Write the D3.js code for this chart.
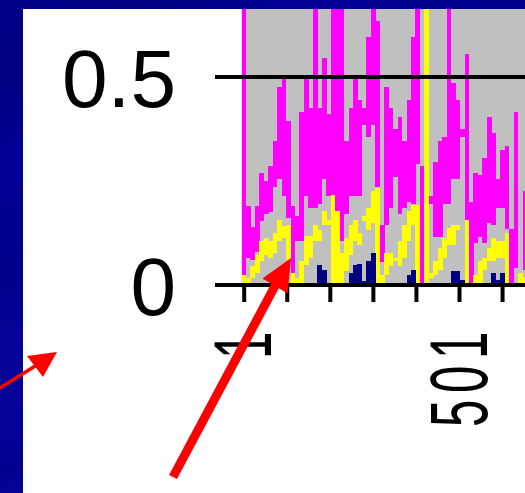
<!DOCTYPE html>
<html>
<head>
<meta charset="utf-8">
<script src="https://cdn.jsdelivr.net/npm/d3@7"></script>
<style>
  body { margin: 0; background: #fff; }
  svg { display: block; }
</style>
</head>
<body>
<div id="chart"></div>
<script>
// one entry per screen column (each column holds ~10 samples)
const magentaHi = [0.8, 0.19, 0.14, 0.19, 0.27, 0.25, 0.285, 0.345, 0.475, 0.495,
    0.395, 0.19, 0.165, 0.415, 0.495, 0.425, 0.8, 0.425, 0.545, 0.41,
    0.8, 0.8, 0.8, 0.345, 0.425, 0.495, 0.445, 0.425, 0.595, 0.8,
    0.635, 0.145, 0.475, 0.425, 0.375, 0.405, 0.345, 0.445, 0.595, 0.8,
    0.285, null, 0.215, 0.295, 0.345, 0.355, 0.8, 0.485, 0.445, 0.375,
    0.555, 0.2, 0.27, 0.265, 0.305, 0.405, 0.365, 0.255, 0.325, 0.335,
    0.135, 0.415, null, 0.225];
const magentaLo = [0.025, 0.065, 0.06, 0.08, 0.155, 0.17, 0.175, 0.235, 0.255, 0.215,
    0.16, 0.03, 0.105, 0.105, 0.215, 0.185, 0.185, 0.195, 0.255, 0.215,
    0.215, 0.175, 0.105, 0.17, 0.215, 0.215, 0.215, 0.385, 0.355, 0.385,
    0.235, 0.055, 0.145, 0.185, 0.26, 0.17, 0.185, 0.2, 0.195, 0.29,
    0.005, null, 0.195, 0.115, 0.115, 0.195, 0.195, 0.255, 0.255, 0.355,
    0.155, 0.005, 0.1, 0.115, 0.1, 0.15, 0.145, 0.185, 0.185, 0.135,
    0.005, 0.04, null, 0.035];
const yellowHi = [0.025, 0.017, 0.045, 0.073, 0.105, 0.113, 0.105, 0.125, 0.157, 0.141,
    0.145, 0.029, 0.017, 0.057, 0.117, 0.117, 0.145, 0.133, 0.177, 0.157,
    0.217, 0.177, 0.077, 0.113, 0.145, 0.157, 0.125, 0.165, 0.185, 0.225,
    0.233, 0.025, 0.077, 0.077, 0.065, 0.105, 0.145, 0.177, 0.193, 0.193,
    null, 0.8, 0.029, 0.057, 0.089, 0.113, 0.137, 0.145, 0.145, null,
    0.157, null, 0.025, 0.057, 0.065, 0.089, 0.113, 0.105, 0.105, 0.125,
    null, null, 0.029, 0.02];
const yellowLo = [0, 0, 0.017, 0.029, 0.057, 0.073, 0.065, 0.077, 0.105, 0.113,
    0.06, 0, 0, 0, 0.049, 0.065, 0.105, 0.105, 0.145, 0.145,
    0, 0, 0, 0.033, 0.073, 0.105, 0.095, 0.153, 0.133, 0.15,
    0, 0, 0.025, 0.045, 0.057, 0.045, 0.065, 0.105, 0.145, 0,
    null, 0, 0.017, 0.025, 0.037, 0.065, 0.097, 0.097, 0.133, null,
    0, null, 0, 0, 0.037, 0.057, 0.057, 0.065, 0.065, 0,
    null, null, 0, 0];
const navyHi = [0, 0, 0, 0, 0, 0, 0, 0, 0, 0,
    0, 0, 0, 0, 0, 0, 0, 0.049, 0.037, 0,
    0, 0, 0, 0, 0.03, 0.048, 0.05, 0.01, 0.057, 0.077,
    0, 0, 0, 0, 0, 0, 0, 0.025, 0.037, 0,
    0, 0, 0, 0, 0, 0, 0, 0.033, 0.033, 0.013,
    0, 0, 0, 0, 0, 0, 0.029, 0.012, 0.029, 0,
    0, 0, 0, 0];

const yTicks = [0, 0.5];
const xTicks = [1, 101, 201, 301, 401, 501, 601];
const xLabels = [1, 501];

const binStart = -4.1;   // first column starts here (x units)
const binWidth = 10.36;  // x units per column

const W = 525, H = 493;
const plotTop = 9, plotRight = W;

const svg = d3.select("#chart").append("svg")
    .attr("width", W)
    .attr("height", H);

const x = d3.scaleLinear().domain([1, 501]).range([243.7, 459]);
const y = d3.scaleLinear().domain([0, 0.5]).range([285, 77]);

// slide background
const defs = svg.append("defs");
const grad = defs.append("linearGradient")
    .attr("id", "bg")
    .attr("gradientUnits", "userSpaceOnUse")
    .attr("x1", 0).attr("y1", 0).attr("x2", 260).attr("y2", 493);
[[0, "#00008a"], [0.12, "#000080"], [0.25, "#000094"], [0.45, "#00008c"],
 [0.6, "#04049a"], [0.75, "#000090"], [0.9, "#0a0a9e"], [1, "#000092"]]
    .forEach(s => grad.append("stop").attr("offset", s[0]).attr("stop-color", s[1]));

svg.append("rect").attr("width", W).attr("height", H).attr("fill", "url(#bg)");
svg.append("rect")
    .attr("x", 23).attr("y", 9)
    .attr("width", W - 23).attr("height", H - 9)
    .attr("fill", "#fff");

defs.append("clipPath").attr("id", "plotclip")
    .append("rect")
    .attr("x", x(binStart)).attr("y", plotTop)
    .attr("width", plotRight - x(binStart)).attr("height", y(0) - plotTop);

// plot background
svg.append("rect")
    .attr("x", x(binStart)).attr("y", plotTop)
    .attr("width", plotRight - x(binStart)).attr("height", y(0) - plotTop)
    .attr("fill", "#c0c0c0");

const plot = svg.append("g").attr("clip-path", "url(#plotclip)");

const colX = i => x(binStart + i * binWidth);
const colW = i => colX(i + 1) - colX(i);

function drawColumns(hi, lo, color) {
    const data = hi.map((h, i) => ({i: i, hi: h, lo: lo ? lo[i] : 0}))
        .filter(d => d.hi != null && d.hi > 0);
    plot.append("g")
        .selectAll("rect")
        .data(data)
        .enter()
        .append("rect")
        .attr("x", d => colX(d.i))
        .attr("width", d => colW(d.i) + 0.3)
        .attr("y", d => y(d.hi))
        .attr("height", d => Math.max(1, y(d.lo) - y(d.hi)))
        .attr("fill", color)
        .attr("shape-rendering", "crispEdges");
}

drawColumns(magentaHi, magentaLo, "#ff00ff");

// 0.5 gridline (also the y tick)
svg.append("g")
    .selectAll("line")
    .data(yTicks.filter(t => t > 0))
    .enter()
    .append("line")
    .attr("x1", 215).attr("x2", plotRight)
    .attr("y1", d => y(d)).attr("y2", d => y(d))
    .attr("stroke", "#000")
    .attr("stroke-width", 4);

drawColumns(yellowHi, yellowLo, "#ffff00");
drawColumns(navyHi, null, "#000080");

// baseline
svg.append("line")
    .attr("x1", 215).attr("x2", plotRight)
    .attr("y1", y(0)).attr("y2", y(0))
    .attr("stroke", "#000")
    .attr("stroke-width", 4);

// y labels
svg.append("g")
    .selectAll("text")
    .data(yTicks)
    .enter()
    .append("text")
    .attr("x", 176)
    .attr("y", d => y(d) + 29.5)
    .attr("text-anchor", "end")
    .attr("font-family", "'Liberation Sans', Arial, sans-serif")
    .attr("font-size", 82)
    .attr("fill", "#000")
    .text(d => d);

// x axis ticks and rotated labels
const xAxis = svg.append("g")
    .attr("transform", `translate(0,${y(0)})`)
    .call(d3.axisBottom(x)
        .tickValues(xTicks)
        .tickSize(17)
        .tickFormat(d => xLabels.includes(d) ? d : ""));

xAxis.select(".domain").remove();
xAxis.selectAll(".tick line")
    .attr("stroke", "#000")
    .attr("stroke-width", 4);
xAxis.selectAll(".tick text")
    .attr("y", null)
    .attr("dy", null)
    .attr("text-anchor", "end")
    .attr("transform", "translate(27,40) rotate(-90) scale(0.6,1)")
    .attr("font-family", "'Liberation Sans', Arial, sans-serif")
    .attr("font-size", 82)
    .style("letter-spacing", "11px")
    .attr("fill", "#000");

// red annotation arrows
const arrows = svg.append("g").attr("fill", "#ff0000").attr("stroke", "#ff0000");
arrows.append("line")
    .attr("x1", 173).attr("y1", 477).attr("x2", 276).attr("y2", 284)
    .attr("stroke-width", 9);
arrows.append("polygon")
    .attr("points", "291,258 262.5,278.5 287.5,293.5")
    .attr("stroke", "none");
arrows.append("line")
    .attr("x1", -5).attr("y1", 391).attr("x2", 36).attr("y2", 365.5)
    .attr("stroke-width", 3.5);
arrows.append("polygon")
    .attr("points", "57,352 27,356 43,377")
    .attr("stroke", "none");
</script>
</body>
</html>
